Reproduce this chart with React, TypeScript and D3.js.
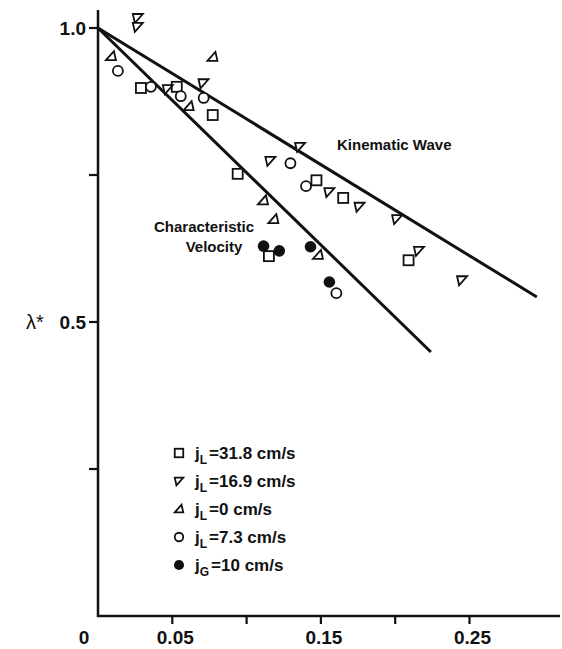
import React, { useEffect, useRef } from 'react';
import * as d3 from 'd3';

// jL = 31.8 cm/s (open squares)
const squares: [number, number][] = [
  [0.0289, 0.898], [0.053, 0.9], [0.0772, 0.852], [0.094, 0.752],
  [0.147, 0.741], [0.165, 0.711], [0.115, 0.612], [0.209, 0.605],
];

// jL = 16.9 cm/s (down triangles)
const downTriangles: [number, number][] = [
  [0.0268, 1.017], [0.0268, 1.002], [0.047, 0.896], [0.071, 0.906],
  [0.116, 0.774], [0.136, 0.798], [0.1557, 0.721], [0.176, 0.696],
  [0.2013, 0.675], [0.216, 0.621], [0.245, 0.571],
];

// jL = 0 cm/s (up triangles)
const upTriangles: [number, number][] = [
  [0.0087, 0.952], [0.077, 0.951], [0.061, 0.867],
  [0.111, 0.707], [0.118, 0.675], [0.148, 0.614],
];

// jL = 7.3 cm/s (open circles)
const openCircles: [number, number][] = [
  [0.0134, 0.927], [0.0356, 0.9], [0.0557, 0.884], [0.0711, 0.881],
  [0.1295, 0.77], [0.14, 0.731], [0.1604, 0.549],
];

// jG = 10 cm/s (filled circles)
const filledCircles: [number, number][] = [
  [0.1114, 0.629], [0.122, 0.621], [0.143, 0.628], [0.1557, 0.568],
];

const kinematicLine: [number, number][] = [[0, 1.0], [0.2953, 0.5425]];
const characteristicLine: [number, number][] = [[0, 1.0], [0.224, 0.449]];

const xTicks = [0.05, 0.1, 0.15, 0.2, 0.25];
const xTickLabels: [number, string][] = [[0, '0'], [0.05, '0.05'], [0.15, '0.15'], [0.25, '0.25']];
const yTicks = [0.25, 0.5, 0.75, 1.0];
const yTickLabels: [number, string][] = [[0.5, '0.5'], [1.0, '1.0']];

const legendItems: { kind: string; sub: string; text: string }[] = [
  { kind: 'square', sub: 'L', text: '=31.8 cm/s' },
  { kind: 'down', sub: 'L', text: '=16.9 cm/s' },
  { kind: 'up', sub: 'L', text: '=0 cm/s' },
  { kind: 'circle', sub: 'L', text: '=7.3 cm/s' },
  { kind: 'filled', sub: 'G', text: '=10 cm/s' },
];

const FONT = '"Liberation Sans", Arial, Helvetica, sans-serif';
const INK = '#111';

function drawMarker(
  g: d3.Selection<SVGGElement, unknown, null, undefined>,
  kind: string,
  cx: number,
  cy: number,
  s: number,
) {
  const sw = 1.8;
  if (kind === 'square') {
    g.append('rect')
      .attr('x', cx - s / 2).attr('y', cy - s / 2)
      .attr('width', s).attr('height', s)
      .attr('fill', '#fff').attr('stroke', INK).attr('stroke-width', sw);
  } else if (kind === 'circle') {
    g.append('circle')
      .attr('cx', cx).attr('cy', cy).attr('r', s / 2)
      .attr('fill', '#fff').attr('stroke', INK).attr('stroke-width', sw);
  } else if (kind === 'filled') {
    g.append('circle')
      .attr('cx', cx).attr('cy', cy).attr('r', s / 2 + 0.8)
      .attr('fill', INK);
  } else if (kind === 'down') {
    const h = s / 2;
    g.append('path')
      .attr('d', `M${cx - h},${cy - h * 0.8}L${cx + h},${cy - h * 0.8}L${cx - h * 0.6},${cy + h}Z`)
      .attr('fill', '#fff').attr('stroke', INK).attr('stroke-width', sw)
      .attr('stroke-linejoin', 'miter');
  } else if (kind === 'up') {
    const h = s / 2;
    g.append('path')
      .attr('d', `M${cx - h},${cy + h * 0.8}L${cx + h},${cy + h * 0.8}L${cx + h * 0.6},${cy - h}Z`)
      .attr('fill', '#fff').attr('stroke', INK).attr('stroke-width', sw)
      .attr('stroke-linejoin', 'miter');
  }
}

const Chart: React.FC = () => {
  const ref = useRef<SVGSVGElement>(null);

  useEffect(() => {
    if (!ref.current) return;
    const svg = d3.select(ref.current);
    svg.selectAll('*').remove();

    const x = d3.scaleLinear().domain([0, 0.25]).range([98, 469.5]);
    const y = d3.scaleLinear().domain([0, 1]).range([616, 28]);

    const g = svg.append('g');

    // Axes
    g.append('line')
      .attr('x1', x(0)).attr('x2', x(0))
      .attr('y1', 10).attr('y2', y(0) + 1)
      .attr('stroke', INK).attr('stroke-width', 2.5);
    g.append('line')
      .attr('x1', x(0) - 1).attr('x2', 560)
      .attr('y1', y(0)).attr('y2', y(0))
      .attr('stroke', INK).attr('stroke-width', 2.5);

    g.selectAll('.ytick')
      .data(yTicks)
      .join('line')
      .attr('class', 'ytick')
      .attr('x1', x(0) - 9).attr('x2', x(0))
      .attr('y1', d => y(d)).attr('y2', d => y(d))
      .attr('stroke', INK).attr('stroke-width', 2.2);

    g.selectAll('.xtick')
      .data(xTicks)
      .join('line')
      .attr('class', 'xtick')
      .attr('x1', d => x(d)).attr('x2', d => x(d))
      .attr('y1', y(0)).attr('y2', y(0) + 8)
      .attr('stroke', INK).attr('stroke-width', 2.2);

    g.selectAll('.ylabel')
      .data(yTickLabels)
      .join('text')
      .attr('class', 'ylabel')
      .attr('x', x(0) - 12)
      .attr('y', d => y(d[0]))
      .attr('dy', '0.36em')
      .attr('text-anchor', 'end')
      .attr('font-family', FONT).attr('font-size', 19).attr('font-weight', 'bold')
      .attr('fill', INK)
      .text(d => d[1]);

    g.selectAll('.xlabel')
      .data(xTickLabels)
      .join('text')
      .attr('class', 'xlabel')
      .attr('x', d => (d[0] === 0 ? x(d[0]) - 14 : x(d[0]) + 3))
      .attr('y', 644)
      .attr('text-anchor', 'middle')
      .attr('font-family', FONT).attr('font-size', 19).attr('font-weight', 'bold')
      .attr('fill', INK)
      .text(d => d[1]);

    g.append('text')
      .attr('x', 35).attr('y', y(0.5))
      .attr('dy', '0.36em')
      .attr('text-anchor', 'middle')
      .attr('font-family', FONT).attr('font-size', 20)
      .attr('fill', INK)
      .text('λ*');

    // Fitted lines
    const line = d3.line<[number, number]>().x(d => x(d[0])).y(d => y(d[1]));
    [kinematicLine, characteristicLine].forEach(pts => {
      g.append('path')
        .attr('d', line(pts))
        .attr('fill', 'none')
        .attr('stroke', INK)
        .attr('stroke-width', 3);
    });

    // Annotations
    g.append('text')
      .attr('x', 337).attr('y', 150)
      .attr('font-family', FONT).attr('font-size', 15).attr('font-weight', 'bold')
      .attr('fill', INK)
      .text('Kinematic Wave');
    const cv = g.append('text')
      .attr('font-family', FONT).attr('font-size', 15).attr('font-weight', 'bold')
      .attr('fill', INK)
      .attr('text-anchor', 'middle');
    cv.append('tspan').attr('x', 204).attr('y', 232).text('Characteristic');
    cv.append('tspan').attr('x', 214).attr('y', 252).text('Velocity');

    // Data markers
    const series: [string, [number, number][]][] = [
      ['square', squares],
      ['down', downTriangles],
      ['up', upTriangles],
      ['circle', openCircles],
      ['filled', filledCircles],
    ];
    series.forEach(([kind, pts]) => {
      pts.forEach(p => drawMarker(g, kind, x(p[0]), y(p[1]), 10));
    });

    // Legend
    legendItems.forEach((item, i) => {
      const ly = 453 + i * 28;
      drawMarker(g, item.kind, 179, ly, 8.5);
      const t = g.append('text')
        .attr('x', 195).attr('y', ly + 6)
        .attr('font-family', FONT).attr('font-size', 17).attr('font-weight', 'bold')
        .attr('fill', INK);
      t.append('tspan').text('j');
      t.append('tspan').attr('dy', 5).attr('font-size', 12).text(item.sub);
      t.append('tspan').attr('dy', -5).attr('dx', 2).text(item.text);
    });
  }, []);

  return (
    <svg
      ref={ref}
      width={562}
      height={649}
      style={{ position: 'absolute', left: 0, top: 0, background: '#fff' }}
    />
  );
};

export default function App() {
  return <Chart />;
}
